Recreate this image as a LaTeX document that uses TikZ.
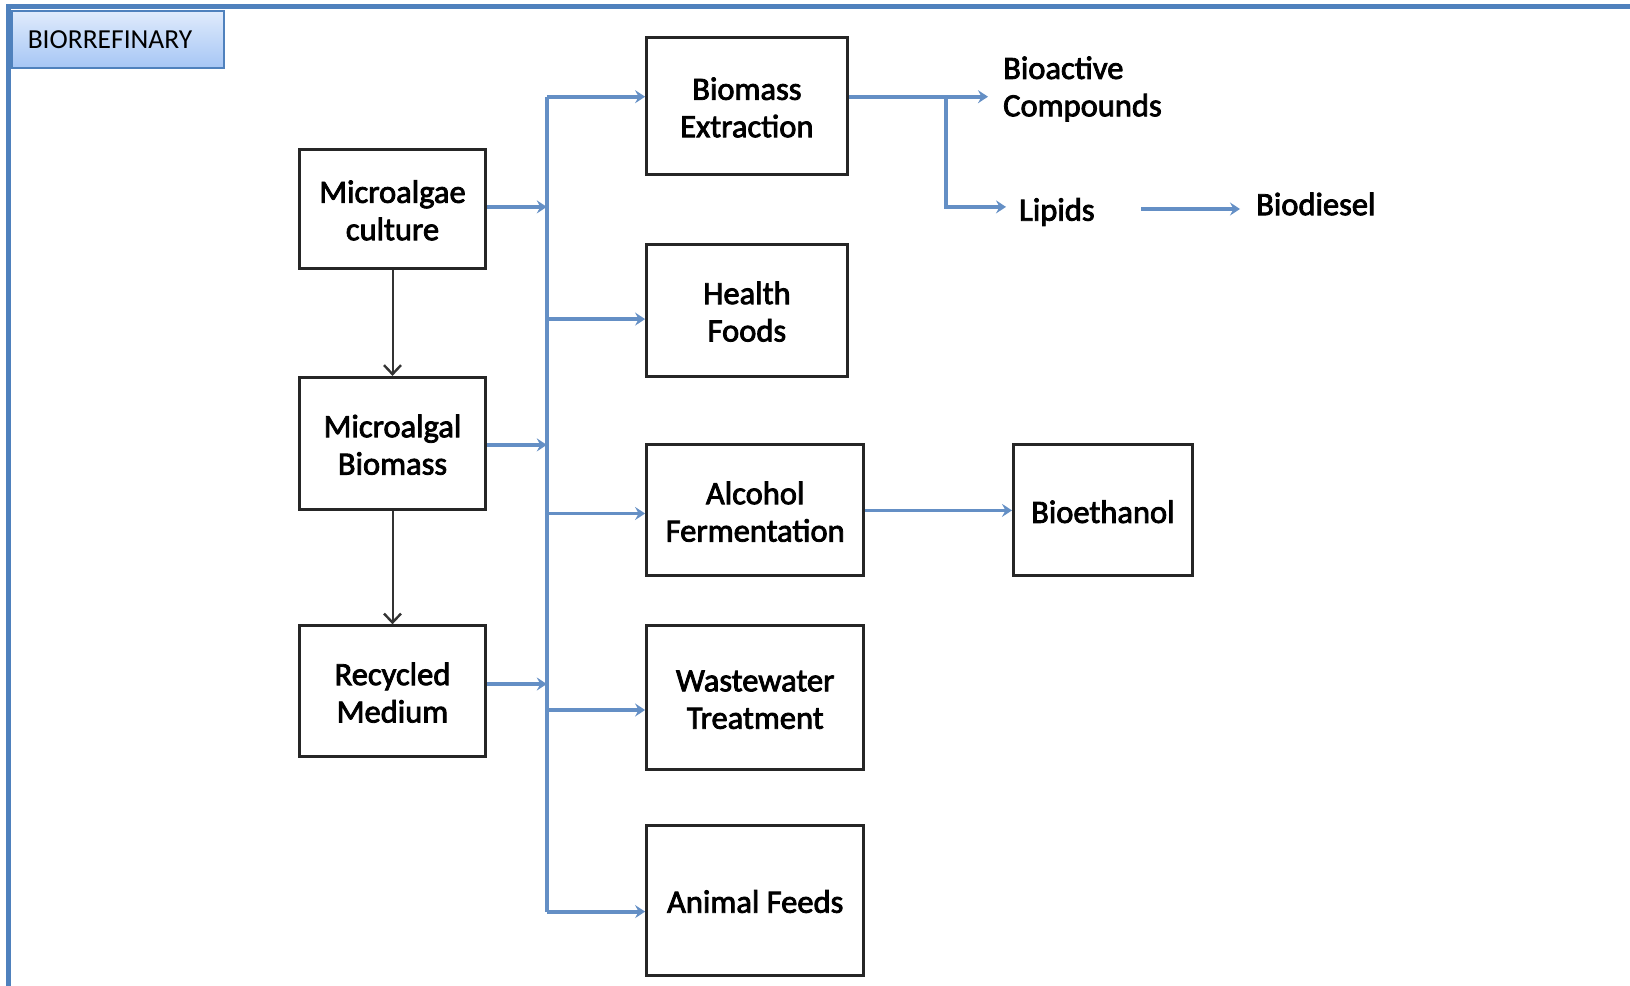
\documentclass[tikz,border=0pt]{standalone}
\usepackage{fontspec}
\setmainfont{Carlito}
\newfontfamily\dgfam{Carlito}[FakeBold=2.5]
\usetikzlibrary{arrows.meta}
\definecolor{frameblue}{RGB}{79,129,189}
\definecolor{lineblue}{RGB}{100,143,197}
\definecolor{titletop}{RGB}{224,235,252}
\definecolor{titlebot}{RGB}{166,198,245}
\newcommand{\dgfont}{\dgfam\fontsize{32.5}{37.4}\selectfont}
\newcommand{\ttlfont}{\fontsize{27.5}{32}\selectfont}
\newcommand{\tstrut}{\rule{0pt}{37pt}}
\newcommand{\bstrut}{\rule[-12pt]{0pt}{12pt}}
\begin{document}
\begin{tikzpicture}[x=1pt,y=-1pt,
  box/.style={draw=black!85, line width=3pt, align=center, inner sep=0pt, font=\dgfont},
  lbl/.style={inner sep=0pt, align=left, font=\dgfont, anchor=west},
  bl/.style={draw=lineblue, line width=3.8pt},
  blarrow/.style={bl, -{Stealth[length=10pt,width=13pt,inset=3.5pt]}},
  karrow/.style={draw=black!80, line width=2pt, -{Straight Barb[length=9pt,width=17pt,line width=2.4pt]}}]
\useasboundingbox (0,0) rectangle (1630,985);
% frame
\draw[frameblue, line width=5pt] (8.5,990) -- (8.5,6.5) -- (1635,6.5);
% title
\node[draw=frameblue, line width=1.5pt, top color=titletop, bottom color=titlebot,
      minimum width=212pt, minimum height=57pt, anchor=north west,
      text width=180pt, align=left, inner xsep=16pt, font=\ttlfont] (title) at (11,10) {BIORREFINARY};
% left column
\node[box, minimum width=186pt, minimum height=118.5pt] (MC) at (392.5,209) {\tstrut Microalgae\\culture\bstrut};
\node[box, minimum width=186pt, minimum height=132pt] (MB) at (392.5,443.4) {\tstrut Microalgal\\Biomass\bstrut};
\node[box, minimum width=186pt, minimum height=131pt] (RM) at (392.5,691.3) {\tstrut Recycled\\Medium\bstrut};
% right column
\node[box, minimum width=200.6pt, minimum height=137.2pt] (BE) at (746.9,106) {\tstrut Biomass\\Extraction\bstrut};
\node[box, minimum width=200.6pt, minimum height=132pt] (HF) at (746.9,310.3) {\tstrut Health\\Foods\bstrut};
\node[box, minimum width=217.2pt, minimum height=131pt] (AF) at (755.2,510.4) {\tstrut Alcohol\\Fermentation\bstrut};
\node[box, minimum width=217.2pt, minimum height=143.4pt] (WT) at (755.2,697.5) {\tstrut Wastewater\\Treatment\bstrut};
\node[box, minimum width=217.2pt, minimum height=149.6pt] (AN) at (755.2,900.2) {\tstrut Animal Feeds\bstrut};
\node[box, minimum width=178.8pt, minimum height=131pt] (BET) at (1102.9,510.4) {\tstrut Bioethanol\bstrut};
% product labels
\node[lbl] (BC) at (1003,89) {Bioactive\\Compounds};
\node[lbl] (LP) at (1019,212) {Lipids};
\node[lbl] (BD) at (1256,204) {Biodiesel};
% black arrows
\draw[karrow] (MC.south) -- (MB.north);
\draw[karrow] (MB.south) -- (RM.north);
% bus
\coordinate (btop) at (546.8,96.7);
\coordinate (bbot) at (546.8,911.6);
\draw[bl] (btop) -- (bbot);
\coordinate (i1) at (546.8,206.9);
\coordinate (i2) at (546.8,444.9);
\coordinate (i3) at (546.8,684.0);
\draw[blarrow] (MC.east |- i1) -- (i1);
\draw[blarrow] (MB.east |- i2) -- (i2);
\draw[blarrow] (RM.east |- i3) -- (i3);
\coordinate (o2) at (546.8,319.1);
\coordinate (o3) at (546.8,513.5);
\coordinate (o4) at (546.8,710.0);
\draw[blarrow] (btop) -- (BE.west |- btop);
\draw[blarrow] (o2) -- (HF.west |- o2);
\draw[blarrow] (o3) -- (AF.west |- o3);
\draw[blarrow] (o4) -- (WT.west |- o4);
\draw[blarrow] (bbot) -- (AN.west |- bbot);
% alcohol -> bioethanol
\coordinate (ae) at (863.8,510.4);
\draw[blarrow] (AF.east |- ae) -- (BET.west |- ae);
% extraction outputs
\coordinate (br) at (946,96.7);
\coordinate (bct) at (988,96.7);
\coordinate (lpk) at (946,206.9);
\coordinate (lpt) at (1006,206.9);
\draw[blarrow] (BE.east |- br) -- (bct);
\draw[blarrow] (br) -- (lpk) -- (lpt);
\coordinate (bds) at (1141,209);
\coordinate (bdt) at (1240,209);
\draw[blarrow] (bds) -- (bdt);
\end{tikzpicture}
\end{document}
